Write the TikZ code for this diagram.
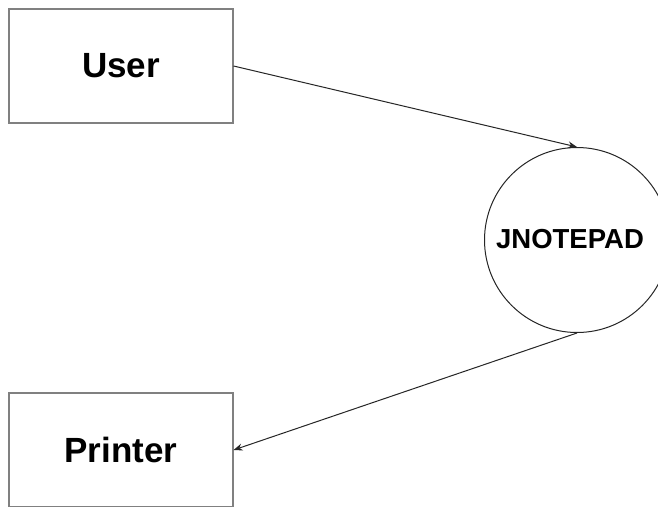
\documentclass[tikz,border=0pt]{standalone}
\usepackage{fontspec}
\setmainfont{Liberation Sans}
\usetikzlibrary{arrows.meta}
\begin{document}
\begin{tikzpicture}[x=1pt,y=-1pt,
  entity/.style={draw=black!50, line width=1.1pt, minimum width=224pt, minimum height=114pt,
    inner sep=0pt, font=\fontsize{35}{40}\selectfont\bfseries},
  process/.style={draw=black!85, line width=1pt, circle, minimum size=185pt, inner sep=0pt},
  proclabel/.style={inner sep=0pt, font=\fontsize{27.5}{30}\selectfont\bfseries},
  flow/.style={draw=black!85, line width=1pt, -{Stealth[length=9pt,width=7pt]}}]
  \useasboundingbox (0,0) rectangle (658,506);
  \clip (0,0) rectangle (658,506);
  \fill[white] (0,0) rectangle (658,506);
  % external entities
  \node[entity] (user) at (121,66) {User};
  \node[entity] (printer) at (121,450) {Printer};
  % the process
  \node[process] (jn) at (577,240) {};
  \node[proclabel] (jnname) at (570,239) {JNOTEPAD};
  % data flows
  \draw[flow] (user.east) -- (jn.north);
  \draw[flow] (jn.south) -- (printer.east);
\end{tikzpicture}
\end{document}
